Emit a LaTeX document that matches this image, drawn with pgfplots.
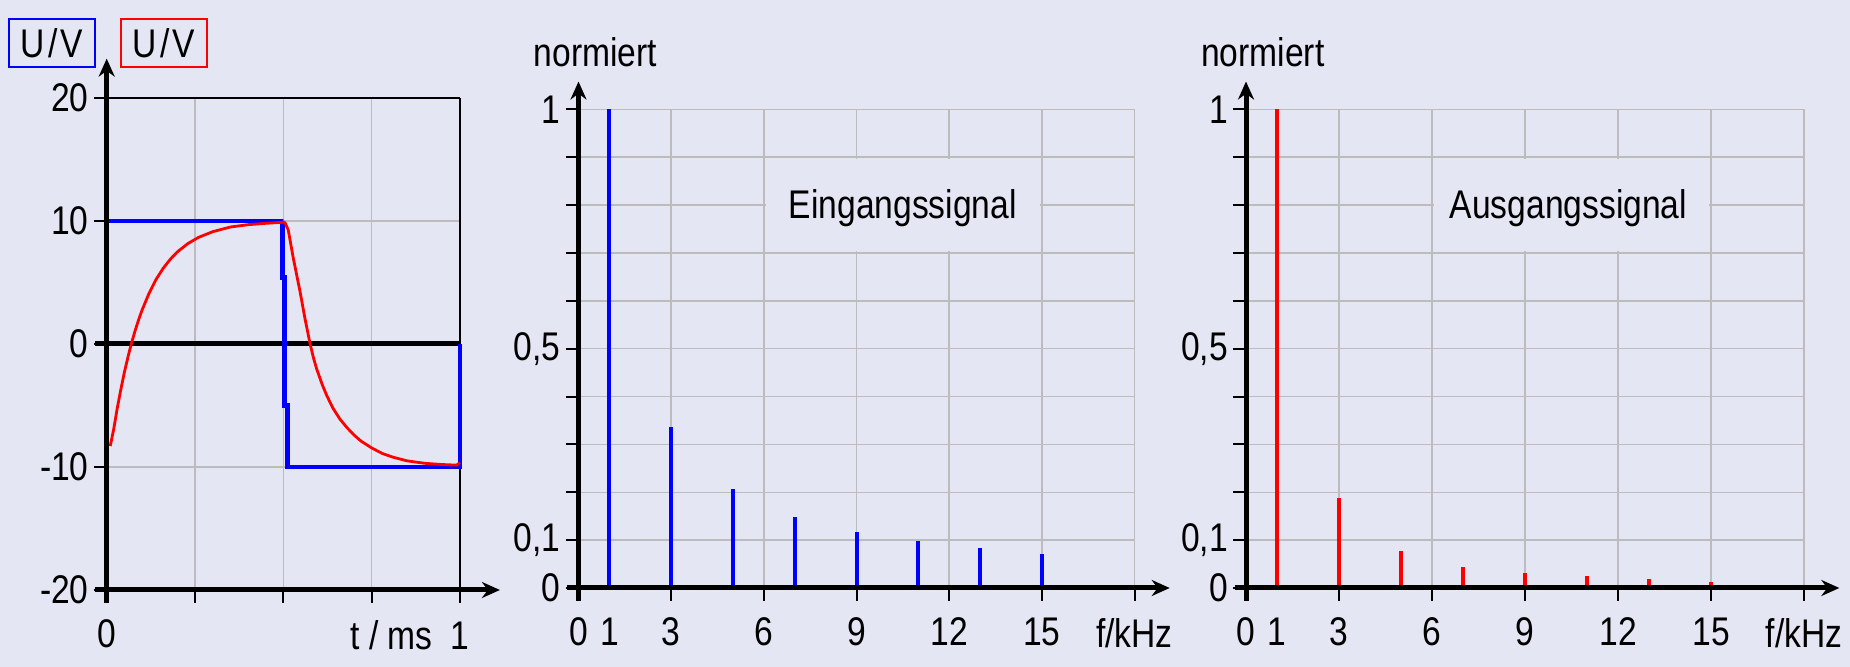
\documentclass[border=0pt]{standalone}
\usepackage{fontspec}
\setmainfont{Liberation Sans}[FakeStretch=0.84]
\usepackage{pgfplots}
\pgfplotsset{compat=1.18}
\usetikzlibrary{arrows.meta}
\definecolor{bg}{RGB}{228,230,243}
\definecolor{gridc}{RGB}{188,188,190}
\tikzset{
  ax/.style={line width=2.5pt, black},
  arr/.style={-{Stealth[length=9pt,width=8pt]}},
}
\pgfplotsset{
  common/.style={
    scale only axis, clip=false,
    axis lines=left, axis line style={draw=none},
    tick align=outside, major tick length=6.5pt,
    tick style={black, line width=1pt},
    grid=major, grid style={gridc, line width=0.75pt},
    /pgf/number format/assume math mode=true,
    tick label style={font=\fontsize{20}{24}\selectfont},
    xticklabel style={yshift=-5pt},
    yticklabel style={xshift=1pt},
  },
}
\begin{document}
\begin{tikzpicture}[font=\fontsize{20}{24}\selectfont]
\fill[bg] (0,0) rectangle (925pt,333.5pt);
% ---------------- left: time signal
\begin{axis}[common,
  at={(53.35pt,38.5pt)}, anchor=south west,
  width=176.65pt, height=246pt,
  xmin=0, xmax=1, ymin=-20, ymax=20,
  xtick={0,0.25,0.5,0.75,1},
  xticklabels={0,,,,\llap{t / ms\hspace{9pt}}1},
  ytick={-20,-10,0,10,20},
  yticklabels={-20,-10,0,10,20},
]
\draw[black, line width=1pt] (axis cs:-0.033,20) -- (axis cs:1,20);
\draw[black, line width=1pt] (axis cs:1,-20) -- (axis cs:1,20);
\draw[ax] (axis cs:-0.033,0) -- (axis cs:1,0);
\addplot[blue, line width=2.4pt] coordinates {
 (0,10) (0.5,10) (0.497,10) (0.497,5.4) (0.504,5.4) (0.504,-5) (0.512,-5)
 (0.512,-10) (1,-10) (1,0)};
\addplot[red, line width=1.4pt] coordinates {
 (0.01,-8.3) (0.02,-6.9) (0.03,-5.2) (0.04,-3.7) (0.05,-2.3) (0.06,-1.08)
 (0.07,0.05) (0.08,1.04) (0.09,1.94) (0.10,2.75) (0.12,4.13) (0.14,5.26)
 (0.16,6.16) (0.18,6.89) (0.20,7.49) (0.23,8.17) (0.26,8.67) (0.30,9.13)
 (0.35,9.51) (0.40,9.70) (0.45,9.81) (0.5,9.9) (0.505,9.85) (0.514,9.25)
 (0.528,7.0) (0.547,4.3) (0.561,2.1) (0.575,0.1) (0.585,-1.1) (0.594,-2.0)
 (0.61,-3.3) (0.623,-4.2) (0.64,-5.2) (0.66,-6.1) (0.68,-6.8) (0.70,-7.4)
 (0.72,-7.9) (0.75,-8.45) (0.78,-8.9) (0.81,-9.2) (0.85,-9.5) (0.90,-9.7)
 (0.95,-9.8) (0.99,-9.85) (1.0,-9.65)};
\draw[ax, arr] (axis cs:-0.033,-20) -- (axis cs:1.113,-20);
\draw[ax, arr] (axis cs:0,-21.06) -- (axis cs:0,23.2);
\node[draw=blue, line width=1pt, minimum width=43pt, minimum height=24pt, inner sep=0pt]
  at (axis cs:-0.155,24.47) {U\kern1.5pt/\kern1.5pt V};
\node[draw=red, line width=1pt, minimum width=43pt, minimum height=24pt, inner sep=0pt]
  at (axis cs:0.162,24.47) {U\kern1.5pt/\kern1.5pt V};
\end{axis}
% ---------------- middle: input spectrum
\begin{axis}[common,
  at={(289.25pt,39.5pt)}, anchor=south west,
  width=278pt, height=239.35pt,
  xmin=0, xmax=18, ymin=0, ymax=1,
  xtick={0,3,6,9,12,15,18},
  xticklabels={0,3,6,9,12,15,f/kHz},
  extra x ticks={1}, extra x tick labels={1},
  extra x tick style={grid=none, tick style={draw=none}},
  ytick={0,0.1,0.2,0.3,0.4,0.5,0.6,0.7,0.8,0.9,1},
  yticklabels={0,{0,1},,,,{0,5},,,,,1},
]
\fill[bg] (axis cs:6.06,0.703) rectangle (axis cs:14.94,0.897);
\node[anchor=base] at (axis cs:10.5,0.772) {Eingangssignal};
\addplot[blue, ycomb, line width=2pt] coordinates {
 (1,1) (3,0.337) (5,0.207) (7,0.149) (9,0.116) (11,0.0975) (13,0.084) (15,0.072)};
\draw[ax, arr] (axis cs:-0.37,0) -- (axis cs:19.14,0);
\draw[ax, arr] (axis cs:0,-0.027) -- (axis cs:0,1.058);
\node[anchor=base west] at (axis cs:-1.67,1.089) {normiert};
\end{axis}
% ---------------- right: output spectrum
\begin{axis}[common,
  at={(623pt,39.5pt)}, anchor=south west,
  width=279pt, height=239.35pt,
  xmin=0, xmax=18, ymin=0, ymax=1,
  xtick={0,3,6,9,12,15,18},
  xticklabels={0,3,6,9,12,15,f/kHz},
  extra x ticks={1}, extra x tick labels={1},
  extra x tick style={grid=none, tick style={draw=none}},
  ytick={0,0.1,0.2,0.3,0.4,0.5,0.6,0.7,0.8,0.9,1},
  yticklabels={0,{0,1},,,,{0,5},,,,,1},
]
\fill[bg] (axis cs:6.06,0.703) rectangle (axis cs:14.94,0.897);
\node[anchor=base] at (axis cs:10.4,0.772) {Ausgangssignal};
\addplot[red, ycomb, line width=2pt] coordinates {
 (1,1) (3,0.188) (5,0.077) (7,0.044) (9,0.031) (11,0.025) (13,0.019) (15,0.013)};
\draw[ax, arr] (axis cs:-0.37,0) -- (axis cs:19.14,0);
\draw[ax, arr] (axis cs:0,-0.027) -- (axis cs:0,1.058);
\node[anchor=base west] at (axis cs:-1.67,1.089) {normiert};
\end{axis}
\pgfresetboundingbox
\useasboundingbox (0,0) rectangle (925pt,333.5pt);
\end{tikzpicture}
\end{document}
